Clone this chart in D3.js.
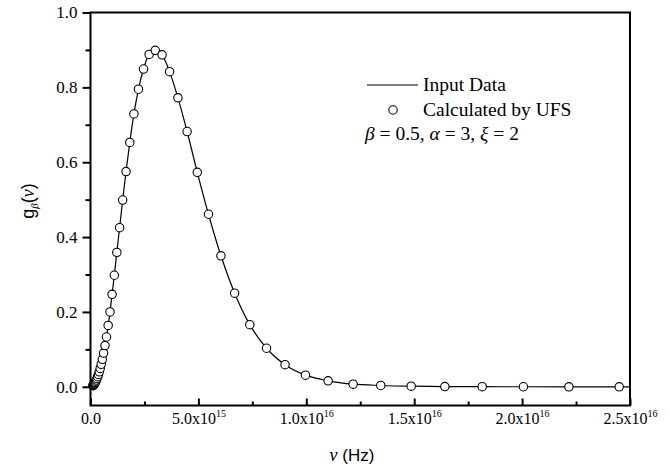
<!DOCTYPE html>
<html>
<head>
<meta charset="utf-8">
<script src="https://cdn.jsdelivr.net/npm/d3@7"></script>
<style>
  body { margin: 0; background: #fff; }
  svg { display: block; }
</style>
</head>
<body>
<div id="chart"></div>
<script>
// frequency (Hz) of the calculated points
var nu = [1.10e14, 1.22e14, 1.35e14, 1.49e14, 1.65e14, 1.82e14, 2.02e14, 2.23e14,
  2.46e14, 2.72e14, 3.01e14, 3.33e14, 3.68e14, 4.06e14, 4.49e14, 4.96e14, 5.48e14,
  6.06e14, 6.70e14, 7.40e14, 8.18e14, 9.04e14, 9.99e14, 1.104e15, 1.220e15, 1.349e15,
  1.490e15, 1.647e15, 1.820e15, 2.012e15, 2.223e15, 2.457e15, 2.716e15, 3.001e15,
  3.317e15, 3.665e15, 4.051e15, 4.477e15, 4.948e15, 5.468e15, 6.043e15, 6.679e15,
  7.381e15, 8.157e15, 9.015e15, 9.963e15, 1.101e16, 1.217e16, 1.345e16, 1.486e16,
  1.642e16, 1.815e16, 2.006e16, 2.217e16, 2.450e16];
// g_beta(nu) of the calculated points
var g = [0.003, 0.0036, 0.0045, 0.0054, 0.0067, 0.008, 0.010, 0.012,
  0.0148, 0.018, 0.022, 0.027, 0.033, 0.040, 0.049, 0.060, 0.0735,
  0.090, 0.110, 0.133, 0.164, 0.200, 0.247, 0.298, 0.359, 0.425,
  0.499, 0.575, 0.653, 0.729, 0.795, 0.849, 0.888, 0.899,
  0.887, 0.842, 0.772, 0.682, 0.573, 0.461, 0.350, 0.250,
  0.166, 0.103, 0.059, 0.031, 0.016, 0.007, 0.0035, 0.0015,
  0.0006, 0.0002, 0.0001, 0, 0];
// input data curve runs from the origin to the right edge
var lineNu = [0].concat(nu, [2.5e16]);
var lineG = [0].concat(g, [0]);

var xTicks = [0, 5e15, 1e16, 1.5e16, 2e16, 2.5e16];
var xTickMant = ["0.0", "5.0", "1.0", "1.5", "2.0", "2.5"];
var xTickExp = ["", "15", "16", "16", "16", "16"];
var xMinor = [2.5e15, 7.5e15, 1.25e16, 1.75e16, 2.25e16];
var yTicks = [0, 0.2, 0.4, 0.6, 0.8, 1.0];
var yMinor = [0.1, 0.3, 0.5, 0.7, 0.9];

var width = 670, height = 470;
var pLeft = 90.5, pRight = 630, pTop = 12.5, pBottom = 405.5;

var svg = d3.select("#chart").append("svg")
    .attr("width", width)
    .attr("height", height);

var x = d3.scaleLinear().domain([0, 2.5e16]).range([pLeft, pRight]);
var y = d3.scaleLinear().domain([-0.05, 1.0]).range([pBottom, pTop]);

var serif = "'Liberation Serif', 'Times New Roman', serif";
var sans = "'Liberation Sans', Arial, sans-serif";

// y axis: ticks outside
var yAxis = svg.append("g")
    .attr("transform", "translate(" + pLeft + ",0)")
    .call(d3.axisLeft(y).tickValues(yTicks).tickSize(8).tickPadding(5)
      .tickFormat(d3.format(".1f")));
svg.append("g")
    .attr("transform", "translate(" + pLeft + ",0)")
    .call(d3.axisLeft(y).tickValues(yMinor).tickSize(5).tickFormat(""));

// x axis: ticks inside
var xAxis = svg.append("g")
    .attr("transform", "translate(0," + pBottom + ")")
    .call(d3.axisBottom(x).tickValues(xTicks).tickSize(-7).tickPadding(7)
      .tickFormat(""));
svg.append("g")
    .attr("transform", "translate(0," + pBottom + ")")
    .call(d3.axisBottom(x).tickValues(xMinor).tickSize(-4).tickFormat(""));

svg.selectAll(".domain").remove();
svg.selectAll(".tick line").attr("stroke", "#000").attr("stroke-width", 2);

yAxis.selectAll("text")
    .attr("font-family", serif)
    .attr("font-size", 17)
    .attr("fill", "#000");

xAxis.selectAll(".tick text").each(function(d, i) {
  var t = d3.select(this)
      .attr("font-family", serif)
      .attr("font-size", 16)
      .attr("fill", "#000");
  t.append("tspan").text(xTickMant[i] + (xTickExp[i] ? "x10" : ""));
  if (xTickExp[i]) {
    t.append("tspan").attr("font-size", 10).attr("dy", -7).text(xTickExp[i]);
  }
});

// frame
svg.append("rect")
    .attr("x", pLeft).attr("y", pTop)
    .attr("width", pRight - pLeft).attr("height", pBottom - pTop)
    .attr("fill", "none").attr("stroke", "#000").attr("stroke-width", 2);

// input data line
var line = d3.line()
    .x(function(d, i) { return x(lineNu[i]); })
    .y(function(d, i) { return y(lineG[i]); })
    .curve(d3.curveMonotoneX);

svg.append("path")
    .datum(lineNu)
    .attr("d", line)
    .attr("fill", "none")
    .attr("stroke", "#000")
    .attr("stroke-width", 1.2);

// calculated points
svg.append("g").selectAll("circle")
    .data(nu)
    .enter().append("circle")
    .attr("cx", function(d) { return x(d); })
    .attr("cy", function(d, i) { return y(g[i]); })
    .attr("r", 4.2)
    .attr("fill", "#fff")
    .attr("stroke", "#000")
    .attr("stroke-width", 1.1);

// axis titles
var xt = svg.append("text")
    .attr("x", 352).attr("y", 461)
    .attr("text-anchor", "middle")
    .attr("fill", "#000");
xt.append("tspan").attr("font-family", serif).attr("font-style", "italic")
    .attr("font-size", 18).text("ν");
xt.append("tspan").attr("font-family", sans).attr("font-size", 17).text(" (Hz)");

var yt = svg.append("text")
    .attr("transform", "translate(34,201) rotate(-90)")
    .attr("text-anchor", "middle")
    .attr("fill", "#000");
yt.append("tspan").attr("font-family", sans).attr("font-size", 18).text("g");
yt.append("tspan").attr("font-family", serif).attr("font-style", "italic")
    .attr("font-size", 11).attr("dy", 4).text("β");
yt.append("tspan").attr("font-family", sans).attr("font-size", 18).attr("dy", -4).text("(");
yt.append("tspan").attr("font-family", serif).attr("font-style", "italic")
    .attr("font-size", 18).text("ν");
yt.append("tspan").attr("font-family", sans).attr("font-size", 18).text(")");

// legend
var lg = svg.append("g");
lg.append("line")
    .attr("x1", 367).attr("x2", 418).attr("y1", 85).attr("y2", 85)
    .attr("stroke", "#000").attr("stroke-width", 1.2);
lg.append("text")
    .attr("x", 423).attr("y", 91)
    .attr("font-family", serif).attr("font-size", 19.5).attr("fill", "#000")
    .text("Input Data");
lg.append("circle")
    .attr("cx", 393).attr("cy", 110).attr("r", 4.2)
    .attr("fill", "#fff").attr("stroke", "#000").attr("stroke-width", 1.1);
lg.append("text")
    .attr("x", 423).attr("y", 116)
    .attr("font-family", serif).attr("font-size", 19.5).attr("fill", "#000")
    .text("Calculated by UFS");
var pt = lg.append("text")
    .attr("x", 365).attr("y", 140)
    .attr("font-family", serif).attr("font-size", 19.5).attr("fill", "#000");
pt.append("tspan").attr("font-style", "italic").text("β");
pt.append("tspan").text(" = 0.5, ");
pt.append("tspan").attr("font-style", "italic").text("α");
pt.append("tspan").text(" = 3, ");
pt.append("tspan").attr("font-style", "italic").text("ξ");
pt.append("tspan").text(" = 2");
</script>
</body>
</html>
